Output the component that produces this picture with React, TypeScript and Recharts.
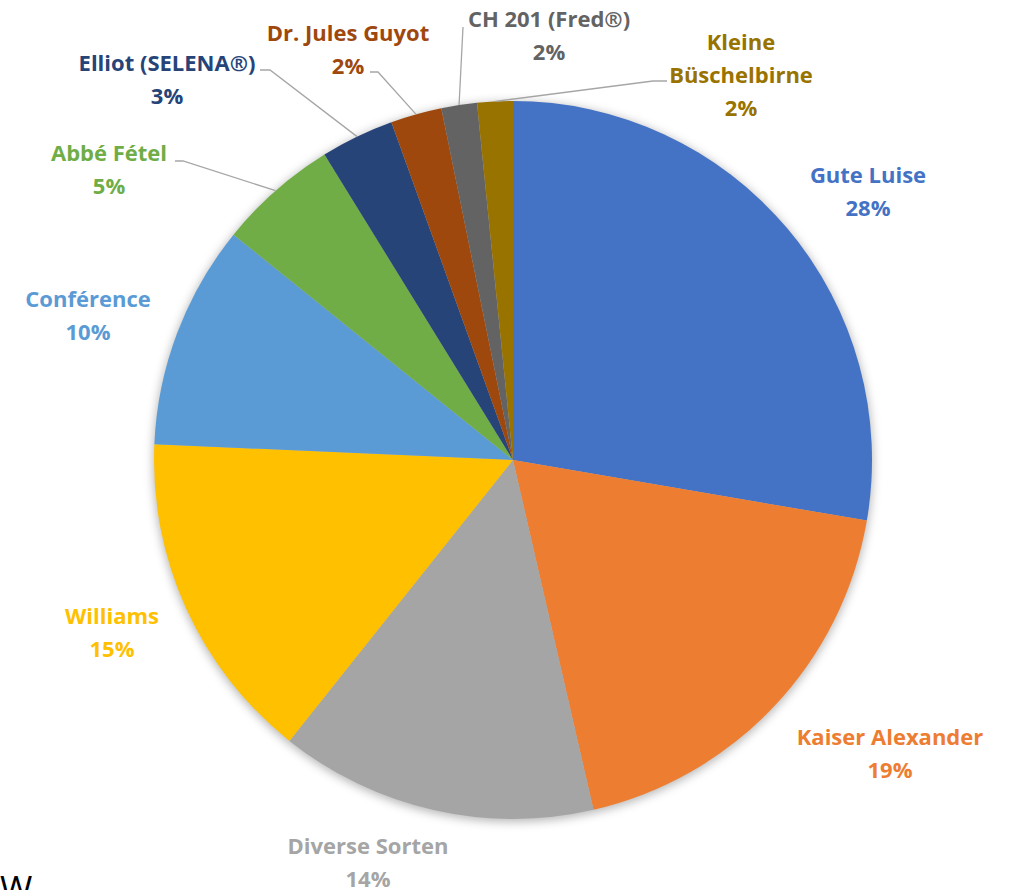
import { PieChart, Pie, Cell } from "recharts"

const varieties = [
  "Gute Luise",
  "Kaiser Alexander",
  "Diverse Sorten",
  "Williams",
  "Conférence",
  "Abbé Fétel",
  "Elliot (SELENA®)",
  "Dr. Jules Guyot",
  "CH 201 (Fred®)",
  "Kleine Büschelbirne",
]

const shares = [27.7, 18.7, 14.3, 15.0, 10.1, 5.4, 3.3, 2.3, 1.6, 1.6]

const colors = [
  "#4472C4", // blue
  "#ED7D31", // orange
  "#A5A5A5", // gray
  "#FFC000", // yellow
  "#5B9BD5", // light blue
  "#70AD47", // green
  "#264478", // dark blue
  "#9E480E", // brown
  "#636363", // dark gray
  "#997300", // olive
]

const data = varieties.map((name, i) => ({ name, value: shares[i] }))

// label layout (Excel-style placement): text center x, first line center y,
// optional elbow of the leader line
const labelLayout: { x: number; y: number; elbow?: [number, number]; end?: [number, number] }[] = [
  { x: 868, y: 174 },
  { x: 890, y: 736 },
  { x: 368, y: 845 },
  { x: 112, y: 615 },
  { x: 88, y: 298 },
  { x: 109, y: 152, elbow: [183, 161], end: [175, 161] },
  { x: 167, y: 62, elbow: [270, 70], end: [260, 70] },
  { x: 348, y: 32, elbow: [378, 72], end: [370, 72] },
  { x: 549, y: 18, elbow: [463, 27], end: [463, 27] },
  { x: 741, y: 41, elbow: [653, 81], end: [667, 81] },
]

const RADIAN = Math.PI / 180
const LINE_GAP = 33

const renderLabel = (props: any) => {
  const { cx, cy, midAngle, outerRadius, percent, index } = props
  const spot = labelLayout[index]
  const name: string = varieties[index]
  const lines = name.length > 17 ? name.split(" ") : [name]
  lines.push(`${Math.round(percent * 100)}%`)
  const color = colors[index]
  let leader = null
  if (spot.elbow) {
    const sx = cx + outerRadius * Math.cos(-midAngle * RADIAN)
    const sy = cy + outerRadius * Math.sin(-midAngle * RADIAN)
    const pts = [[sx, sy], spot.elbow, spot.end!].map((p) => p.join(",")).join(" ")
    leader = <polyline points={pts} fill="none" stroke="#A6A6A6" strokeWidth={1.3} />
  }
  return (
    <g key={`label-${index}`}>
      {leader}
      <text
        x={spot.x}
        y={spot.y}
        fill={color}
        textAnchor="middle"
        dominantBaseline="central"
        fontFamily="'Open Sans', sans-serif"
        fontWeight={700}
        fontSize={22}
      >
        {lines.map((line, i) => (
          <tspan key={i} x={spot.x} y={spot.y + i * LINE_GAP}>
            {line}
          </tspan>
        ))}
      </text>
    </g>
  )
}

export default function App() {
  return (
    <div style={{ position: "absolute", left: 0, top: 0, width: 1010, height: 890, overflow: "hidden", background: "#fff" }}>
      <PieChart width={1010} height={890} margin={{ top: 0, right: 0, bottom: 0, left: 0 }}>
        <defs>
          <filter id="pieShadow" x="-20%" y="-20%" width="140%" height="140%">
            <feGaussianBlur stdDeviation="5" />
          </filter>
        </defs>
        <Pie
          data={[{ name: "shadow", value: 1 }]}
          dataKey="value"
          cx={513}
          cy={462}
          outerRadius={360}
          startAngle={90}
          endAngle={-270}
          fill="rgba(0,0,0,0.28)"
          stroke="none"
          filter="url(#pieShadow)"
          isAnimationActive={false}
        />
        <Pie
          data={data}
          dataKey="value"
          cx={513}
          cy={460}
          outerRadius={359}
          startAngle={90}
          endAngle={-270}
          stroke="none"
          label={renderLabel}
          labelLine={false}
          isAnimationActive={false}
        >
          {data.map((entry, index) => (
            <Cell key={`cell-${index}`} fill={colors[index]} />
          ))}
        </Pie>
      </PieChart>
      <div
        style={{
          position: "absolute",
          left: 0,
          top: 868,
          fontFamily: "'Open Sans', sans-serif",
          fontSize: 35,
          lineHeight: "40px",
          color: "#000",
        }}
      >
        W
      </div>
    </div>
  )
}
